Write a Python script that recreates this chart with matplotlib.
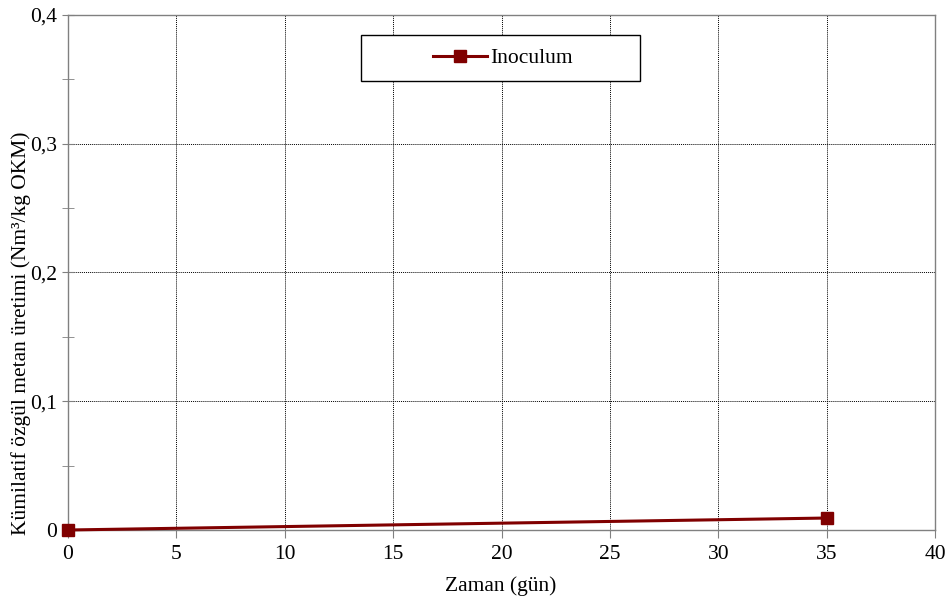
import matplotlib
matplotlib.use("Agg")
import matplotlib.pyplot as plt
from matplotlib.ticker import MultipleLocator, FuncFormatter
from matplotlib.patches import Rectangle

plt.rcParams['font.family'] = ['Liberation Serif', 'DejaVu Serif']

days = [0, 35]
inoculum = [0.0, 0.0093]

W, H = 951, 601
FS = 15.5
fig = plt.figure(figsize=(W/100, H/100), dpi=100)
ax = fig.add_axes([68/W, 1-530/H, (935-68)/W, (530-15)/H])

ax.plot(days, inoculum, color='#800000', lw=2.2, marker='s', ms=8.5,
        markerfacecolor='#800000', markeredgecolor='#800000', label='Inoculum',
        zorder=5, clip_on=False)

ax.set_xlim(0, 40)
ax.set_ylim(0, 0.4)
ax.xaxis.set_major_locator(MultipleLocator(5))
ax.yaxis.set_major_locator(MultipleLocator(0.1))
ax.yaxis.set_minor_locator(MultipleLocator(0.05))

def fmt(v, pos):
    if abs(v) < 1e-9:
        return '0'
    return ('%.1f' % v).replace('.', ',')
ax.yaxis.set_major_formatter(FuncFormatter(fmt))
ax.xaxis.set_major_formatter(FuncFormatter(lambda v, p: '%d' % v))

ax.grid(True, which='major', color='black', linestyle=(0, (1, 1)), linewidth=0.7)
for s in ax.spines.values():
    s.set_color('#808080')
    s.set_linewidth(1.0)

ax.tick_params(axis='x', which='major', direction='out', length=6, color='#808080',
               labelsize=FS, pad=5)
ax.tick_params(axis='y', which='both', direction='inout', length=8, color='#808080',
               labelsize=FS, pad=4)

# legend frame box
fig.patches.append(Rectangle((361/W, 1-81/H), (640-361)/W, (81-35)/H,
                             transform=fig.transFigure, facecolor='white',
                             edgecolor='black', linewidth=1.0, zorder=10))
leg = fig.legend(loc='center', bbox_to_anchor=(503/W, 1-58/H), frameon=False,
                 fontsize=FS, handlelength=2.5, handletextpad=0.15)
leg.set_zorder(11)

fig.text(501/W, 1-586/H, 'Zaman (gün)', ha='center', va='center', fontsize=FS)
fig.text(21/W, 1-333/H, 'Kümilatif özgül metan üretimi (Nm³/kg OKM)', ha='center',
         va='center', rotation=90, fontsize=FS)

fig.savefig('out.png', dpi=100)
